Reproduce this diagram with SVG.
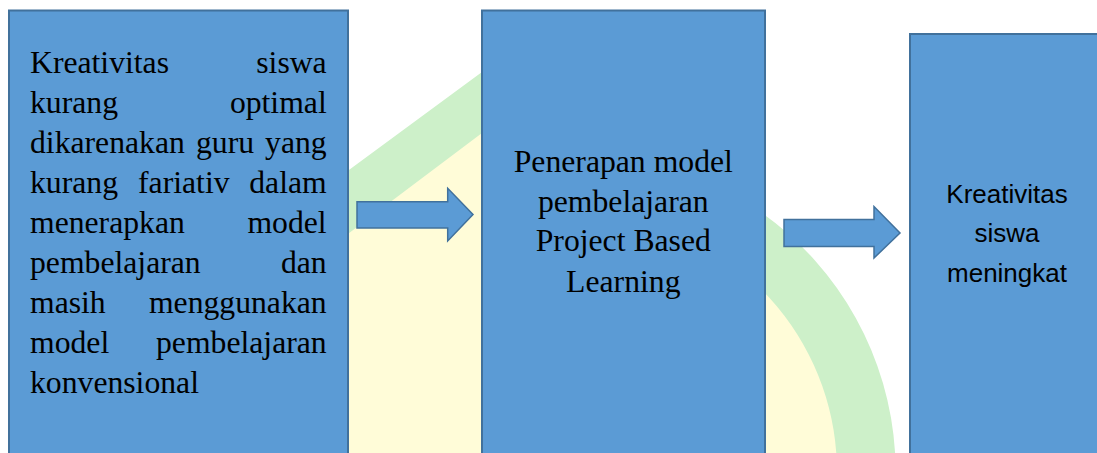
<svg xmlns="http://www.w3.org/2000/svg" width="1097" height="453" viewBox="0 0 1097 453">
  <style>
    .box { fill: #5b9bd5; stroke: #41719c; stroke-width: 2; }
    .arrow { fill: #5b9bd5; stroke: #41719c; stroke-width: 1.5; stroke-linejoin: miter; }
    .serif { font-family: "Liberation Serif", "Times New Roman", serif; font-size: 31.7px; fill: #000; }
    .sans { font-family: "Liberation Sans", Arial, sans-serif; font-size: 26px; fill: #000; }
    .e { text-anchor: end; }
    .m { text-anchor: middle; }
  </style>
  <rect x="0" y="0" width="1097" height="453" fill="#ffffff"/>
  <g id="watermark">
    <path d="M 300,206 L 482,72 L 560,20 L 700,140 L 762,213 A 318 318 0 0 1 895.1,453 L 300,453 Z" fill="#cdf0c9"/>
    <path d="M 300,270 L 482,133 L 560,90 L 700,200 L 762,290 A 259 259 0 0 1 836.3,453 L 300,453 Z" fill="#fffcd8"/>
  </g>
  <g id="node1">
    <rect class="box" x="9" y="10.5" width="339" height="460"/>
    <text class="serif" x="30" y="73">Kreativitas</text>
    <text class="serif e" x="326.7" y="73">siswa</text>
    <text class="serif" x="30" y="113">kurang</text>
    <text class="serif e" x="326.7" y="113">optimal</text>
    <text class="serif" x="30" y="153">dikarenakan</text>
    <text class="serif m" x="225" y="153">guru</text>
    <text class="serif e" x="326.7" y="153">yang</text>
    <text class="serif" x="30" y="193">kurang</text>
    <text class="serif m" x="183.8" y="193">fariativ</text>
    <text class="serif e" x="326.7" y="193">dalam</text>
    <text class="serif" x="30" y="233">menerapkan</text>
    <text class="serif e" x="326.7" y="233">model</text>
    <text class="serif" x="30" y="273">pembelajaran</text>
    <text class="serif e" x="326.7" y="273">dan</text>
    <text class="serif" x="30" y="313">masih</text>
    <text class="serif e" x="326.7" y="313">menggunakan</text>
    <text class="serif" x="30" y="353">model</text>
    <text class="serif e" x="326.7" y="353">pembelajaran</text>
    <text class="serif" x="30" y="392.5">konvensional</text>
  </g>
  <g id="node2">
    <rect class="box" x="482" y="10.5" width="283" height="460"/>
    <text class="serif m" x="623.3" y="171.5">Penerapan model</text>
    <text class="serif m" x="623.3" y="211.5">pembelajaran</text>
    <text class="serif m" x="623.3" y="251">Project Based</text>
    <text class="serif m" x="623.3" y="292">Learning</text>
  </g>
  <g id="node3">
    <rect class="box" x="910" y="34" width="200" height="440"/>
    <text class="sans m" x="1007" y="203.3">Kreativitas</text>
    <text class="sans m" x="1007" y="241.7">siswa</text>
    <text class="sans m" x="1007" y="281.7">meningkat</text>
  </g>
  <g id="connectors">
    <polygon class="arrow" points="357,201.7 447.7,201.7 447.7,188.3 473,214.5 447.7,241 447.7,228 357,228"/>
    <polygon class="arrow" points="784,219.5 874,219.5 874,206.5 900,233 874,258 874,246.5 784,246.5"/>
  </g>
</svg>
